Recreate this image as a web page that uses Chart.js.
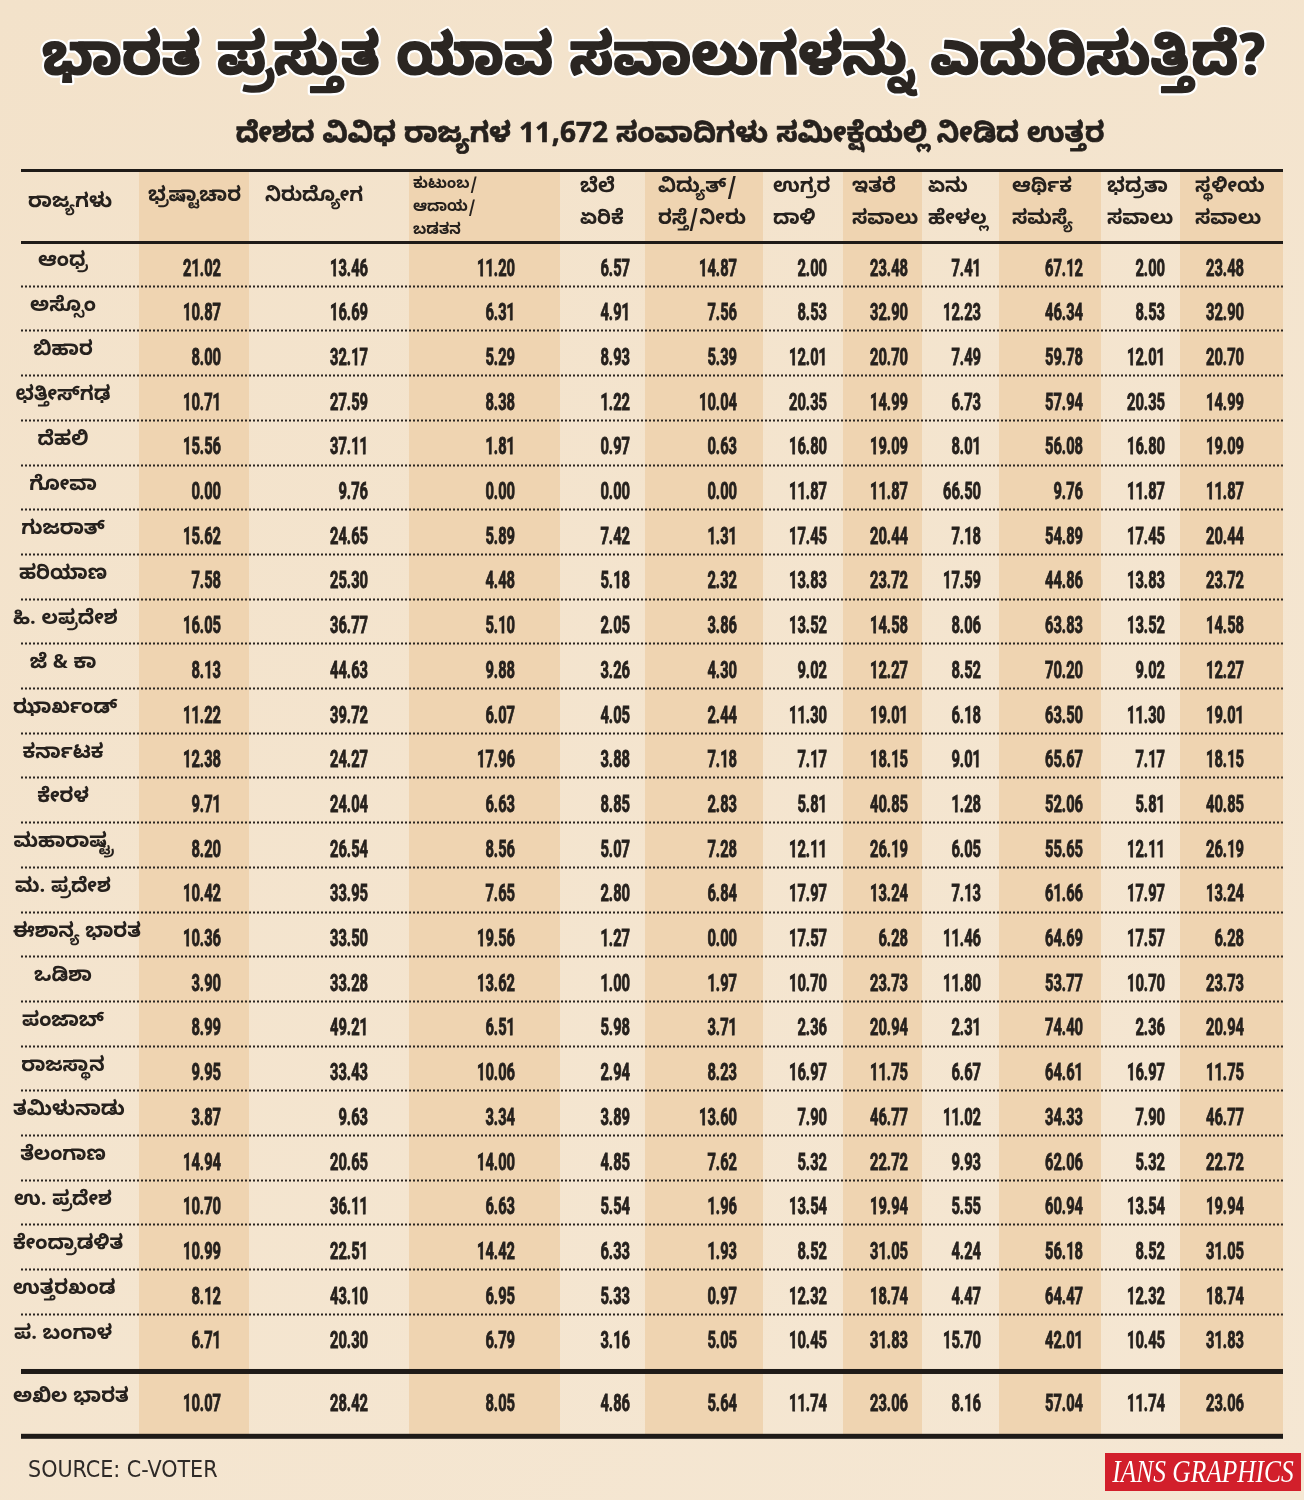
<!DOCTYPE html>
<html>
<head>
<meta charset="utf-8">
<script src="https://cdn.jsdelivr.net/npm/chart.js@4.4.1/dist/chart.umd.min.js"></script>
<style>
  html, body { margin: 0; padding: 0; background: #f4e4cd; }
  #wrap { width: 1304px; height: 1500px; }
</style>
</head>
<body>
<div id="wrap"><canvas id="tabela" width="1304" height="1500"></canvas></div>
<script>
// dados
const titulo = 'ಭಾರತ ಪ್ರಸ್ತುತ ಯಾವ ಸವಾಲುಗಳನ್ನು ಎದುರಿಸುತ್ತಿದೆ?';
const subtitulo = 'ದೇಶದ ವಿವಿಧ ರಾಜ್ಯಗಳ 11,672 ಸಂವಾದಿಗಳು ಸಮೀಕ್ಷೆಯಲ್ಲಿ ನೀಡಿದ ಉತ್ತರ';
const cabecalhoEstado = 'ರಾಜ್ಯಗಳು';
const cabecalhos = [
  ['ಭ್ರಷ್ಟಾಚಾರ'], ['ನಿರುದ್ಯೋಗ'], ['ಕುಟುಂಬ/', 'ಆದಾಯ/', 'ಬಡತನ'], ['ಬೆಲೆ', 'ಏರಿಕೆ'],
  ['ವಿದ್ಯುತ್/', 'ರಸ್ತೆ/ನೀರು'], ['ಉಗ್ರರ', 'ದಾಳಿ'], ['ಇತರೆ', 'ಸವಾಲು'], ['ಏನು', 'ಹೇಳಲ್ಲ'],
  ['ಆರ್ಥಿಕ', 'ಸಮಸ್ಯೆ'], ['ಭದ್ರತಾ', 'ಸವಾಲು'], ['ಸ್ಥಳೀಯ', 'ಸವಾಲು']
];
const estados = ['ಆಂಧ್ರ', 'ಅಸ್ಸೊಂ', 'ಬಿಹಾರ', 'ಛತ್ತೀಸ್‌ಗಢ', 'ದೆಹಲಿ', 'ಗೋವಾ', 'ಗುಜರಾತ್', 'ಹರಿಯಾಣ',
  'ಹಿ. ಲಪ್ರದೇಶ', 'ಜೆ & ಕಾ', 'ಝಾರ್ಖಂಡ್', 'ಕರ್ನಾಟಕ', 'ಕೇರಳ', 'ಮಹಾರಾಷ್ಟ್ರ', 'ಮ. ಪ್ರದೇಶ',
  'ಈಶಾನ್ಯ ಭಾರತ', 'ಒಡಿಶಾ', 'ಪಂಜಾಬ್', 'ರಾಜಸ್ಥಾನ', 'ತಮಿಳುನಾಡು', 'ತೆಲಂಗಾಣ', 'ಉ. ಪ್ರದೇಶ',
  'ಕೇಂದ್ರಾಡಳಿತ', 'ಉತ್ತರಖಂಡ', 'ಪ. ಬಂಗಾಳ'];
const totalLabel = 'ಅಖಿಲ ಭಾರತ';

const corrupcao   = [21.02, 10.87, 8.00, 10.71, 15.56, 0.00, 15.62, 7.58, 16.05, 8.13, 11.22, 12.38, 9.71, 8.20, 10.42, 10.36, 3.90, 8.99, 9.95, 3.87, 14.94, 10.70, 10.99, 8.12, 6.71];
const desemprego  = [13.46, 16.69, 32.17, 27.59, 37.11, 9.76, 24.65, 25.30, 36.77, 44.63, 39.72, 24.27, 24.04, 26.54, 33.95, 33.50, 33.28, 49.21, 33.43, 9.63, 20.65, 36.11, 22.51, 43.10, 20.30];
const familia     = [11.20, 6.31, 5.29, 8.38, 1.81, 0.00, 5.89, 4.48, 5.10, 9.88, 6.07, 17.96, 6.63, 8.56, 7.65, 19.56, 13.62, 6.51, 10.06, 3.34, 14.00, 6.63, 14.42, 6.95, 6.79];
const precos      = [6.57, 4.91, 8.93, 1.22, 0.97, 0.00, 7.42, 5.18, 2.05, 3.26, 4.05, 3.88, 8.85, 5.07, 2.80, 1.27, 1.00, 5.98, 2.94, 3.89, 4.85, 5.54, 6.33, 5.33, 3.16];
const infra       = [14.87, 7.56, 5.39, 10.04, 0.63, 0.00, 1.31, 2.32, 3.86, 4.30, 2.44, 7.18, 2.83, 7.28, 6.84, 0.00, 1.97, 3.71, 8.23, 13.60, 7.62, 1.96, 1.93, 0.97, 5.05];
const terror      = [2.00, 8.53, 12.01, 20.35, 16.80, 11.87, 17.45, 13.83, 13.52, 9.02, 11.30, 7.17, 5.81, 12.11, 17.97, 17.57, 10.70, 2.36, 16.97, 7.90, 5.32, 13.54, 8.52, 12.32, 10.45];
const outros      = [23.48, 32.90, 20.70, 14.99, 19.09, 11.87, 20.44, 23.72, 14.58, 12.27, 19.01, 18.15, 40.85, 26.19, 13.24, 6.28, 23.73, 20.94, 11.75, 46.77, 22.72, 19.94, 31.05, 18.74, 31.83];
const naoSabe     = [7.41, 12.23, 7.49, 6.73, 8.01, 66.50, 7.18, 17.59, 8.06, 8.52, 6.18, 9.01, 1.28, 6.05, 7.13, 11.46, 11.80, 2.31, 6.67, 11.02, 9.93, 5.55, 4.24, 4.47, 15.70];
const economia    = [67.12, 46.34, 59.78, 57.94, 56.08, 9.76, 54.89, 44.86, 63.83, 70.20, 63.50, 65.67, 52.06, 55.65, 61.66, 64.69, 53.77, 74.40, 64.61, 34.33, 62.06, 60.94, 56.18, 64.47, 42.01];
const seguranca   = [2.00, 8.53, 12.01, 20.35, 16.80, 11.87, 17.45, 13.83, 13.52, 9.02, 11.30, 7.17, 5.81, 12.11, 17.97, 17.57, 10.70, 2.36, 16.97, 7.90, 5.32, 13.54, 8.52, 12.32, 10.45];
const locais      = [23.48, 32.90, 20.70, 14.99, 19.09, 11.87, 20.44, 23.72, 14.58, 12.27, 19.01, 18.15, 40.85, 26.19, 13.24, 6.28, 23.73, 20.94, 11.75, 46.77, 22.72, 19.94, 31.05, 18.74, 31.83];
const totalIndia  = [10.07, 28.42, 8.05, 4.86, 5.64, 11.74, 23.06, 8.16, 57.04, 11.74, 23.06];

const colunas = [corrupcao, desemprego, familia, precos, infra, terror, outros, naoSabe, economia, seguranca, locais];

// layout (pixels / linhas)
const bordas = [21, 139, 249, 409, 560, 645, 763, 843, 922, 999, 1101, 1180, 1283];
const alinhaDir = [221, 368, 515, 630, 737, 827, 908, 981, 1083, 1165, 1244];
const cabecalhoX = [148, 265, 413, 580, 658, 773, 852, 928, 1012, 1107, 1195];
const PASSO = 44.7, LINHA0 = 267, ALTURA = 1500;
const LINHA_TOTAL = 25.41;

const KN = "'Noto Sans Kannada', 'Lohit Kannada', 'Noto Sans', sans-serif";
const NUM = "Roboto, 'DejaVu Sans Condensed', sans-serif";
const TINTA = '#26211d';

const datasets = colunas.map((col, c) => ({
  label: cabecalhos[c].join(' '),
  data: col.concat([totalIndia[c]]).map((v, i) => ({ x: alinhaDir[c], y: i < col.length ? i : LINHA_TOTAL, v: v })),
  pointRadius: 0
}));

const tabelaPlugin = {
  id: 'tabela',
  beforeDraw(chart) {
    const { ctx, scales: { x, y } } = chart;
    const px = v => x.getPixelForValue(v);
    const py = v => y.getPixelForValue(v);
    ctx.save();
    const g = ctx.createLinearGradient(0, 0, 1304, 1500);
    g.addColorStop(0, '#f3e2ca');
    g.addColorStop(1, '#f5e7d3');
    ctx.fillStyle = g;
    ctx.fillRect(0, 0, 1304, 1500);

    // colunas sombreadas
    const topo = 171, fundo = py(26.17);
    ctx.fillStyle = '#efd4b1';
    for (let c = 0; c < 11; c += 2) {
      ctx.fillRect(px(bordas[c + 1]), topo, px(bordas[c + 2]) - px(bordas[c + 1]), fundo - topo);
    }

    // titulo
    ctx.textAlign = 'center';
    ctx.textBaseline = 'middle';
    ctx.font = 'bold 57px ' + KN;
    ctx.lineJoin = 'round';
    ctx.strokeStyle = '#ffffff';
    ctx.lineWidth = 6;
    ctx.strokeText(titulo, 654, 68);
    ctx.fillStyle = '#2b2622';
    ctx.strokeStyle = '#2b2622';
    ctx.lineWidth = 1.6;
    ctx.fillText(titulo, 654, 68);
    ctx.strokeText(titulo, 654, 68);
    ctx.font = 'bold 28px ' + KN;
    ctx.fillStyle = TINTA;
    ctx.lineWidth = 0.6;
    ctx.strokeStyle = TINTA;
    ctx.fillText(subtitulo, 670, 139);
    ctx.strokeText(subtitulo, 670, 139);

    // linhas grossas
    ctx.fillStyle = '#1f1b18';
    ctx.fillRect(px(bordas[0]), 169, px(bordas[12]) - px(bordas[0]), 3);
    ctx.fillRect(px(bordas[0]), 241, px(bordas[12]) - px(bordas[0]), 3);
    ctx.fillRect(px(bordas[0]), py(24.72) - 3, px(bordas[12]) - px(bordas[0]), 5);
    ctx.fillRect(px(bordas[0]), py(26.17) - 3, px(bordas[12]) - px(bordas[0]), 5);

    // linhas pontilhadas
    ctx.strokeStyle = '#2a2521';
    ctx.lineWidth = 2;
    ctx.setLineDash([2, 2]);
    for (let i = 0; i < estados.length - 1; i++) {
      const yy = Math.round(py(i + 0.42)) + 0.5;
      ctx.beginPath();
      ctx.moveTo(px(bordas[0]), yy);
      ctx.lineTo(px(bordas[12]), yy);
      ctx.stroke();
    }
    ctx.setLineDash([]);

    // cabecalhos
    ctx.fillStyle = TINTA;
    ctx.textAlign = 'left';
    ctx.font = 'bold 20px ' + KN;
    ctx.fillText(cabecalhoEstado, 28, 205);
    cabecalhos.forEach((linhas, c) => {
      if (linhas.length === 3) {
        ctx.font = 'bold 15px ' + KN;
        linhas.forEach((t, k) => ctx.fillText(t, cabecalhoX[c], 186 + k * 23));
      } else if (linhas.length === 2) {
        ctx.font = 'bold 20px ' + KN;
        linhas.forEach((t, k) => ctx.fillText(t, cabecalhoX[c], 190 + k * 32));
      } else {
        ctx.font = 'bold 20px ' + KN;
        ctx.fillText(linhas[0], cabecalhoX[c], 199);
      }
    });

    // estados
    ctx.textAlign = 'center';
    ctx.font = 'bold 20px ' + KN;
    const centro = t => Math.max(63, 13 + ctx.measureText(t).width / 2);
    estados.forEach((e, i) => ctx.fillText(e, centro(e), py(i) - 3));
    ctx.fillText(totalLabel, centro(totalLabel), py(LINHA_TOTAL) - 3);

    // rodape
    ctx.textAlign = 'left';
    ctx.textBaseline = 'alphabetic';
    ctx.font = '23px ' + "'DejaVu Sans Condensed', sans-serif";
    ctx.fillStyle = '#2e2a27';
    ctx.fillText('SOURCE: C-VOTER', 28, 1477);
    ctx.fillStyle = '#d21f2b';
    ctx.fillRect(1105, 1453, 196, 38);
    ctx.fillStyle = '#ffffff';
    ctx.save();
    ctx.translate(1203, 1482);
    ctx.scale(0.82, 1);
    ctx.textAlign = 'center';
    ctx.font = 'italic 31px "Liberation Serif", serif';
    ctx.fillText('IANS GRAPHICS', 0, 0);
    ctx.restore();
    ctx.restore();
  },
  afterDatasetsDraw(chart) {
    const { ctx } = chart;
    ctx.save();
    ctx.fillStyle = TINTA;
    ctx.strokeStyle = TINTA;
    ctx.lineWidth = 0.9;
    ctx.font = 'bold 24px ' + NUM;
    ctx.textAlign = 'right';
    ctx.textBaseline = 'alphabetic';
    // largura de referência: "21.02" ocupa ~38px
    const sx = 38 / ctx.measureText('21.02').width;
    chart.data.datasets.forEach((ds, d) => {
      chart.getDatasetMeta(d).data.forEach((pt, j) => {
        const txt = ds.data[j].v.toFixed(2);
        ctx.save();
        ctx.translate(pt.x, pt.y + 8.5);
        ctx.scale(sx, 1);
        ctx.fillText(txt, 0, 0);
        ctx.strokeText(txt, 0, 0);
        ctx.restore();
      });
    });
    ctx.restore();
  }
};

new Chart(document.getElementById('tabela'), {
  type: 'scatter',
  data: { datasets: datasets },
  options: {
    responsive: false,
    animation: false,
    layout: { padding: 0 },
    plugins: { legend: { display: false }, tooltip: { enabled: false } },
    scales: {
      x: { type: 'linear', display: false, min: 0, max: 1304 },
      y: { type: 'linear', display: false, reverse: true, min: -LINHA0 / PASSO, max: (ALTURA - LINHA0) / PASSO }
    }
  },
  plugins: [tabelaPlugin]
});
</script>
</body>
</html>
